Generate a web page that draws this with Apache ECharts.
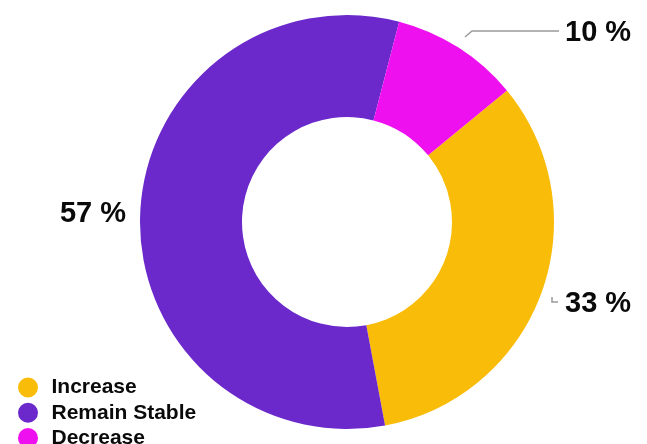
<!DOCTYPE html>
<html>
<head>
<meta charset="utf-8">
<script src="https://cdn.jsdelivr.net/npm/echarts@6/dist/echarts.min.js"></script>
<style>html,body{margin:0;padding:0;background:#fff;}#c{width:647px;height:444px;}</style>
</head>
<body>
<div id="c"></div>
<script>
const categories = ["Increase", "Remain Stable", "Decrease"];
const values = [33, 57, 10];
const colors = ["#F9BC08", "#6B28CB", "#EF10EF"];

const chart = echarts.init(document.getElementById('c'), null, {renderer: 'canvas'});
const labelPos = {
  "Increase": {x: 565, y: 304, align: 'left', line: [[-13, -7], [-13, -2], [-7, -2]]},
  "Remain Stable": {x: 126, y: 214, align: 'right', line: null},
  "Decrease": {x: 565, y: 33, align: 'left', line: [[-100, 4], [-93, -2], [-6, -2]]}
};
chart.setOption({
  animation: false,
  legend: {
    orient: 'vertical',
    left: 18,
    top: 377,
    height: 120,
    padding: 0,
    icon: 'circle',
    itemWidth: 23,
    itemHeight: 20,
    itemGap: 4.3,
    data: categories,
    textStyle: {fontFamily: 'Liberation Sans, Arial, sans-serif', fontSize: 21, fontWeight: 'bold', color: '#0a0a0a', lineHeight: 20, padding: [0, 0, 0, 7]}
  },
  series: [{
    type: 'pie',
    center: [347, 222],
    radius: [105, 207],
    startAngle: 39.4,
    clockwise: true,
    avoidLabelOverlap: false,
    label: {
      show: true,
      formatter: '{c} %',
      fontFamily: 'Liberation Sans, Arial, sans-serif',
      fontSize: 29,
      fontWeight: 'bold',
      color: '#0a0a0a'
    },
    labelLine: {show: true, lineStyle: {color: '#9a9a9a', width: 1.5}},
    labelLayout: function (p) {
      const name = categories[p.dataIndex];
      const lp = labelPos[name];
      const res = {x: lp.x, y: lp.y, align: lp.align, verticalAlign: 'middle'};
      if (lp.line) {
        res.labelLinePoints = lp.line.map(pt => [lp.x + pt[0], lp.y + pt[1]]);
      }
      return res;
    },
    data: categories.map((c, i) => ({
      name: c,
      value: values[i],
      itemStyle: {color: colors[i]},
      labelLine: c === 'Remain Stable' ? {show: false} : undefined
    }))
  }]
});
</script>
</body>
</html>
